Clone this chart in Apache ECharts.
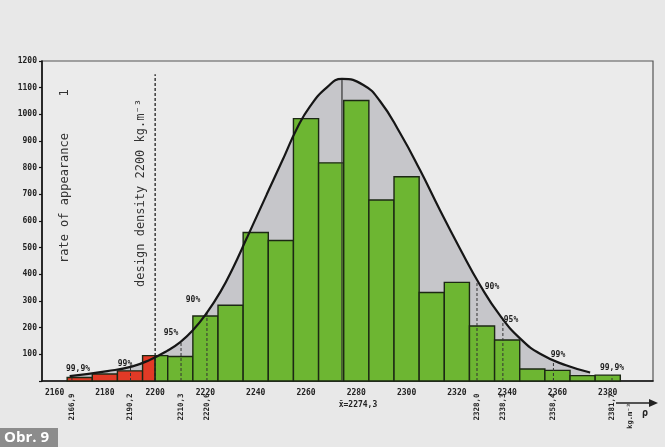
<!DOCTYPE html>
<html><head><meta charset="utf-8">
<script src="https://cdn.jsdelivr.net/npm/echarts@6/dist/echarts.min.js"></script>
<style>html,body{margin:0;padding:0;background:#e8e8e8;}#c{width:665px;height:447px;}</style>
</head><body><div id="c"></div>
<script>
// ---- data ----
const xTickLabels = [2160, 2180, 2200, 2220, 2240, 2260, 2280, 2300, 2320, 2340, 2360, 2380];
const greenStart  = [2200, 2205, 2215, 2225, 2235, 2245, 2255, 2265, 2275, 2285, 2295, 2305, 2315, 2325, 2335, 2345, 2355, 2365, 2375];
const greenEnd    = [2205, 2215, 2225, 2235, 2245, 2255, 2265, 2275, 2285, 2295, 2305, 2315, 2325, 2335, 2345, 2355, 2365, 2375, 2385];
const greenValues = [95, 92, 244, 284, 557, 527, 984, 818, 1052, 679, 766, 332, 370, 206, 154, 45, 40, 20, 22];
const redStart  = [2165, 2175, 2185, 2195];
const redEnd    = [2175, 2185, 2195, 2200];
const redValues = [13, 26, 38, 95];
const curveX = [2166, 2181, 2191, 2198, 2204.6, 2210, 2215, 2220.5, 2226, 2231, 2236.4, 2244.4, 2251, 2256.3, 2261.6, 2268.2, 2274.3, 2282.8, 2289.4, 2297.4, 2305.4, 2313.3, 2321.3, 2329.2, 2337.2, 2345.1, 2353.1, 2363.7, 2373];
const curveY = [18, 37, 55, 80, 112, 146, 190, 255, 335, 425, 535, 700, 835, 945, 1030, 1100, 1133, 1110, 1050, 930, 790, 640, 495, 360, 245, 160, 102, 58, 32];
const meanValue = 2274.3;
const meanPeak = 1133;
const designDensity = 2200;
const designTop = 1150;
const quantileX = [2166.9, 2190.2, 2210.3, 2220.6, 2328.0, 2338.3, 2358.4, 2381.7];
const quantileText = ['2166,9', '2190,2', '2210,3', '2220,6', '2328,0', '2338,3', '2358,4', '2381,7'];
const quantileHeights = [18, 50, 150, 258, 375, 228, 72, 22];
const percentText = ['99,9%', '99%', '95%', '90%', '90%', '95%', '99%', '99,9%'];

const mono = '"DejaVu Sans Mono", "Liberation Mono", monospace';

function rectRender(params, api) {
  const p0 = api.coord([api.value(0), api.value(2)]);
  const p1 = api.coord([api.value(1), 0]);
  return {
    type: 'rect',
    shape: { x: p0[0], y: p0[1], width: p1[0] - p0[0], height: p1[1] - p0[1] },
    style: { fill: api.visual('color'), stroke: '#1c2814', lineWidth: 1.4 }
  };
}
function vlineRender(dash, width, color) {
  return function (params, api) {
    const a = api.coord([api.value(0), 0]);
    const b = api.coord([api.value(0), api.value(1)]);
    return {
      type: 'line',
      shape: { x1: a[0], y1: a[1], x2: b[0], y2: b[1] },
      style: { stroke: color, lineWidth: width, lineDash: dash }
    };
  };
}

const curveData = curveX.map((x, i) => [x, curveY[i]]);

const chart = echarts.init(document.getElementById('c'), null, { renderer: 'canvas' });
chart.setOption({
  animation: false,
  backgroundColor: '#e8e8e8',
  grid: { left: 42, right: 12, top: 61, bottom: 66, show: true, borderColor: '#555', borderWidth: 1.2, backgroundColor: '#ebebeb' },
  xAxis: {
    type: 'value', min: 2155, max: 2398,
    axisLine: { show: true, onZero: false, lineStyle: { color: '#111', width: 1.6 } },
    axisTick: { show: false },
    splitLine: { show: false },
    axisLabel: {
      customValues: xTickLabels, margin: 8, fontSize: 8, fontWeight: 'bold', fontFamily: mono, color: '#222',
      formatter: v => String(v)
    }
  },
  yAxis: {
    type: 'value', min: 0, max: 1200, interval: 100,
    axisLine: { show: true, lineStyle: { color: '#111', width: 1.6 } },
    axisTick: { show: true, length: 3, lineStyle: { color: '#111', width: 1.2 } },
    splitLine: { show: false },
    axisLabel: {
      margin: 5, fontSize: 8, fontWeight: 'bold', fontFamily: mono, color: '#222',
      formatter: v => (v === 0 ? '' : String(v))
    }
  },
  series: [
    { type: 'line', data: curveData, smooth: 0.5, symbol: 'none', z: 1,
      lineStyle: { width: 0 }, areaStyle: { color: '#c6c6ca', opacity: 1 } },
    { type: 'custom', renderItem: rectRender, z: 2, itemStyle: { color: '#e23a26' },
      data: redStart.map((s, i) => [s, redEnd[i], redValues[i]]) },
    { type: 'custom', renderItem: rectRender, z: 2, itemStyle: { color: '#6db632' },
      data: greenStart.map((s, i) => [s, greenEnd[i], greenValues[i]]) },
    { type: 'custom', renderItem: vlineRender([3, 2], 1, '#333'), z: 3,
      data: quantileX.map((x, i) => [x, quantileHeights[i]]) },
    { type: 'custom', renderItem: vlineRender(null, 1.2, '#333'), z: 3,
      data: [[meanValue, meanPeak]] },
    { type: 'custom', renderItem: vlineRender([3, 2], 1.3, '#222'), z: 3,
      data: [[designDensity, designTop]] },
    { type: 'line', data: curveData, smooth: 0.5, symbol: 'none', z: 4,
      lineStyle: { color: '#161616', width: 2.2 } }
  ]
});

// ---- annotations ----
const g = [];
const percentPos = [[78, 369], [125, 364], [171, 333], [193, 300], [492, 287], [511, 320], [558, 355], [612, 368]];
percentText.forEach((t, i) => {
  g.push({ type: 'text', x: percentPos[i][0], y: percentPos[i][1], z: 10,
    style: { text: t, fontSize: 8, fontWeight: 'bold', fontFamily: mono, fill: '#222', align: 'center', verticalAlign: 'middle' } });
});
quantileX.forEach((x, i) => {
  const p = chart.convertToPixel({ gridIndex: 0 }, [x, 0]);
  g.push({ type: 'text', x: p[0], y: 407, rotation: Math.PI / 2, z: 10,
    style: { text: quantileText[i], fontSize: 7.5, fontWeight: 'bold', fontFamily: mono, fill: '#222', align: 'center', verticalAlign: 'middle' } });
});
const pm = chart.convertToPixel({ gridIndex: 0 }, [meanValue, 0]);
g.push({ type: 'text', x: pm[0] + 16, y: 405, z: 10,
  style: { text: 'x\u0304=2274,3', fontSize: 8, fontWeight: 'bold', fontFamily: mono, fill: '#222', align: 'center', verticalAlign: 'middle' } });
const pd = chart.convertToPixel({ gridIndex: 0 }, [designDensity, 0]);
g.push({ type: 'text', x: pd[0] - 14, y: 193, rotation: Math.PI / 2, z: 10,
  style: { text: 'design density 2200 kg.m\u207B\u00B3', fontSize: 12, fontFamily: mono, fill: '#333', align: 'center', verticalAlign: 'middle' } });
g.push({ type: 'text', x: 65, y: 198, rotation: Math.PI / 2, z: 10,
  style: { text: 'rate of appearance', fontSize: 12, fontFamily: mono, fill: '#333', align: 'center', verticalAlign: 'middle' } });
g.push({ type: 'text', x: 65, y: 93, rotation: Math.PI / 2, z: 10,
  style: { text: '1', fontSize: 12, fontFamily: mono, fill: '#333', align: 'center', verticalAlign: 'middle' } });
// arrow bottom right
g.push({ type: 'line', z: 10, shape: { x1: 616, y1: 403, x2: 652, y2: 403 }, style: { stroke: '#222', lineWidth: 1.5 } });
g.push({ type: 'polygon', z: 10, shape: { points: [[658, 403], [649, 399], [649, 407]] }, style: { fill: '#222' } });
g.push({ type: 'text', x: 630, y: 416, rotation: Math.PI / 2, z: 10,
  style: { text: 'kg.m\u207B\u00B3', fontSize: 7, fontWeight: 'bold', fontFamily: mono, fill: '#222', align: 'center', verticalAlign: 'middle' } });
g.push({ type: 'text', x: 645, y: 413, z: 10,
  style: { text: '\u03C1', fontSize: 10, fontWeight: 'bold', fontFamily: mono, fill: '#222', align: 'center', verticalAlign: 'middle' } });
// Obr. 9 tab
g.push({ type: 'rect', z: 10, shape: { x: 0, y: 428, width: 58, height: 19 }, style: { fill: '#8c8c8c' } });
g.push({ type: 'text', x: 4, y: 438, z: 11,
  style: { text: 'Obr. 9', fontSize: 15, fontWeight: 'bold', fontFamily: '"Open Sans", Roboto, sans-serif', fill: '#ffffff', align: 'left', verticalAlign: 'middle' } });

chart.setOption({ graphic: g });
</script>
</body></html>
